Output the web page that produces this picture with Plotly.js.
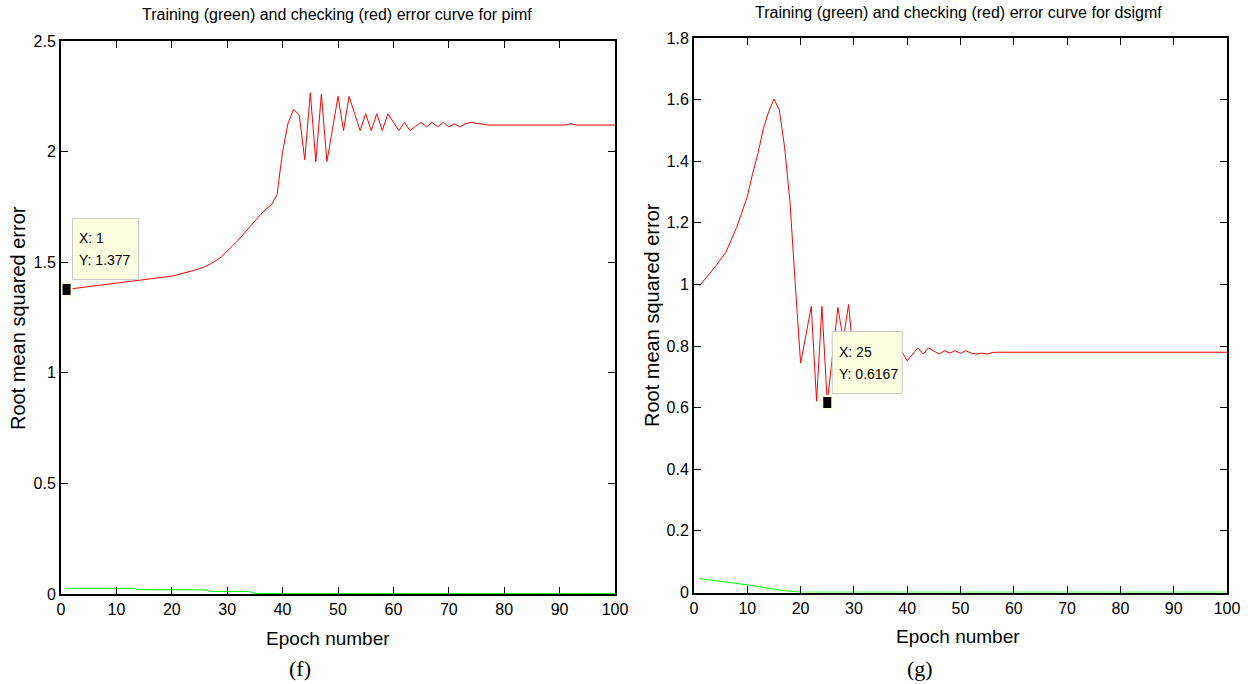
<!DOCTYPE html>
<html>
<head>
<meta charset="utf-8">
<script src="https://cdn.plot.ly/plotly-3.0.1.min.js"></script>
<style>
  html, body { margin: 0; padding: 0; background: #ffffff; }
  #chart { width: 1248px; height: 684px; }
</style>
</head>
<body>
<div id="chart"></div>
<script>
// ---------------- data ----------------
const epochs = [1,2,3,4,5,6,7,8,9,10,11,12,13,14,15,16,17,18,19,20,
  21,22,23,24,25,26,27,28,29,30,31,32,33,34,35,36,37,38,39,40,
  41,42,43,44,45,46,47,48,49,50,51,52,53,54,55,56,57,58,59,60,
  61,62,63,64,65,66,67,68,69,70,71,72,73,74,75,76,77,78,79,80,
  81,82,83,84,85,86,87,88,89,90,91,92,93,94,95,96,97,98,99,100];

// (f) pimf
const pimfChecking = [1.377,1.380,1.383,1.387,1.391,1.394,1.397,1.400,1.403,1.406,
  1.409,1.411,1.414,1.417,1.419,1.422,1.425,1.428,1.432,1.437,
  1.443,1.449,1.456,1.463,1.471,1.480,1.493,1.507,1.525,1.548,
  1.575,1.600,1.630,1.660,1.690,1.715,1.740,1.760,1.806,2.000,
  2.130,2.191,2.165,1.963,2.266,1.955,2.260,1.955,2.100,2.250,
  2.095,2.250,2.171,2.095,2.171,2.095,2.171,2.095,2.171,2.135,
  2.095,2.132,2.095,2.115,2.132,2.112,2.132,2.112,2.132,2.112,
  2.125,2.112,2.125,2.133,2.127,2.125,2.120,2.120,2.120,2.120,
  2.120,2.120,2.120,2.120,2.120,2.120,2.120,2.120,2.120,2.120,
  2.120,2.126,2.120,2.120,2.120,2.120,2.120,2.120,2.120,2.120];
const pimfTraining = [0.026,0.026,0.026,0.026,0.026,0.026,0.026,0.026,0.026,0.026,
  0.026,0.026,0.026,0.020,0.019,0.019,0.019,0.019,0.019,0.019,
  0.019,0.019,0.019,0.019,0.019,0.019,0.012,0.011,0.011,0.011,
  0.011,0.011,0.011,0.011,0.003,0.002,0.002,0.002,0.002,0.002,
  0.002,0.002,0.002,0.002,0.002,0.002,0.002,0.002,0.002,0.002,
  0.002,0.002,0.002,0.002,0.002,0.002,0.002,0.002,0.002,0.002,
  0.002,0.002,0.002,0.002,0.002,0.002,0.002,0.002,0.002,0.002,
  0.002,0.002,0.002,0.002,0.002,0.002,0.002,0.002,0.002,0.002,
  0.002,0.002,0.002,0.002,0.002,0.002,0.002,0.002,0.002,0.002,
  0.002,0.002,0.002,0.002,0.002,0.002,0.002,0.002,0.002,0.002];

// (g) dsigmf
const dsigChecking = [0.995,1.015,1.035,1.058,1.082,1.105,1.145,1.185,1.235,1.285,
  1.360,1.425,1.505,1.560,1.602,1.567,1.445,1.270,1.000,0.745,
  0.835,0.929,0.621,0.929,0.6167,0.770,0.925,0.820,0.935,0.750,
  0.830,0.760,0.820,0.765,0.810,0.770,0.800,0.770,0.783,0.752,
  0.773,0.794,0.774,0.794,0.784,0.774,0.785,0.777,0.785,0.776,
  0.785,0.777,0.774,0.777,0.774,0.779,0.780,0.780,0.780,0.780,
  0.780,0.780,0.780,0.780,0.780,0.780,0.780,0.780,0.780,0.780,
  0.780,0.780,0.780,0.780,0.780,0.780,0.780,0.780,0.780,0.780,
  0.780,0.780,0.780,0.780,0.780,0.780,0.780,0.780,0.780,0.780,
  0.780,0.780,0.780,0.780,0.780,0.780,0.780,0.780,0.780,0.780];
const dsigTraining = [0.045,0.043,0.041,0.039,0.036,0.033,0.031,0.029,0.027,0.025,
  0.022,0.019,0.016,0.013,0.010,0.008,0.006,0.004,0.002,0.001,
  0.001,0.001,0.001,0.001,0.001,0.001,0.001,0.001,0.001,0.001,
  0.001,0.001,0.001,0.001,0.001,0.001,0.001,0.001,0.001,0.001,
  0.001,0.001,0.001,0.001,0.001,0.001,0.001,0.001,0.001,0.001,
  0.001,0.001,0.001,0.001,0.001,0.001,0.001,0.001,0.001,0.001,
  0.001,0.001,0.001,0.001,0.001,0.001,0.001,0.001,0.001,0.001,
  0.001,0.001,0.001,0.001,0.001,0.001,0.001,0.001,0.001,0.001,
  0.001,0.001,0.001,0.001,0.001,0.001,0.001,0.001,0.001,0.001,
  0.001,0.001,0.001,0.001,0.001,0.001,0.001,0.001,0.001,0.001];

const titles = ["Training (green) and checking (red) error curve for pimf",
                "Training (green) and checking (red) error curve for dsigmf"];
const xTitle = "Epoch number";
const yTitle = "Root mean squared error";
const captions = ["(f)", "(g)"];
const xTickVals = [0,10,20,30,40,50,60,70,80,90,100];
const yTickValsF = [0,0.5,1,1.5,2,2.5];
const yTickValsG = [0,0.2,0.4,0.6,0.8,1,1.2,1.4,1.6,1.8];
// data tips: index into epochs (epoch 1 for pimf, epoch 25 for dsigmf)
const tipIndexF = 0;
const tipIndexG = 24;

// ---------------- layout ----------------
const W = 1248, H = 684;
const px = v => v / W;
const py = v => 1 - v / H;
const sansFamily = "'Liberation Sans', Arial, Helvetica, sans-serif";
const axFont = { family: sansFamily, size: 16, color: "#000" };
const tipFont = { family: sansFamily, size: 14, color: "#000" };

function axisBase(extra) {
  return Object.assign({
    showline: true, linecolor: "#000", linewidth: 2, mirror: "ticks",
    ticks: "inside", ticklen: 7, tickwidth: 1, tickcolor: "#000",
    showgrid: false, zeroline: false, tickfont: axFont, fixedrange: true,
    automargin: false
  }, extra);
}

const traces = [
  { x: epochs, y: pimfChecking, xaxis: "x", yaxis: "y", mode: "lines",
    line: { color: "#ff0000", width: 1 }, hoverinfo: "skip", name: "checking" },
  { x: epochs, y: pimfTraining, xaxis: "x", yaxis: "y", mode: "lines",
    line: { color: "#00ff00", width: 1 }, hoverinfo: "skip", name: "training" },
  { x: epochs, y: dsigChecking, xaxis: "x2", yaxis: "y2", mode: "lines",
    line: { color: "#ff0000", width: 1 }, hoverinfo: "skip", name: "checking" },
  { x: epochs, y: dsigTraining, xaxis: "x2", yaxis: "y2", mode: "lines",
    line: { color: "#00ff00", width: 1 }, hoverinfo: "skip", name: "training" }
];

function tipShapes(xref, yref, xv, yv, box) {
  return [
    { type: "rect", xref: xref, yref: yref, xsizemode: "pixel", ysizemode: "pixel",
      xanchor: xv, yanchor: yv, x0: box[0], x1: box[1], y0: box[2], y1: box[3],
      fillcolor: "#ffffe1", line: { color: "#c8c8c8", width: 1 }, layer: "above" },
    { type: "rect", xref: xref, yref: yref, xsizemode: "pixel", ysizemode: "pixel",
      xanchor: xv, yanchor: yv, x0: -5, x1: 5, y0: -6.5, y1: 6.5,
      fillcolor: "#000000", line: { color: "#ffffe1", width: 2 }, layer: "above" }
  ];
}
function tipTexts(xref, yref, xv, yv) {
  return [
    { xref: xref, yref: yref, x: xv, y: yv, text: "X: " + xv, showarrow: false,
      xanchor: "left", yanchor: "middle", xshift: 10, yshift: 51, font: tipFont },
    { xref: xref, yref: yref, x: xv, y: yv, text: "Y: " + yv, showarrow: false,
      xanchor: "left", yanchor: "middle", xshift: 10, yshift: 29, font: tipFont }
  ];
}

const fx = epochs[tipIndexF], fy = pimfChecking[tipIndexF];
const gx = epochs[tipIndexG], gy = dsigChecking[tipIndexG];

const textAnn = (x, y, text, size, extra) => Object.assign({
  xref: "paper", yref: "paper", x: px(x), y: py(y), text: text, showarrow: false,
  xanchor: "center", yanchor: "middle",
  font: { family: sansFamily, size: size, color: "#000" }
}, extra || {});
const serif = { family: "'Liberation Serif', 'Times New Roman', serif", size: 22, color: "#000" };

const layout = {
  width: W, height: H,
  margin: { l: 0, r: 0, t: 0, b: 0 },
  paper_bgcolor: "#ffffff", plot_bgcolor: "#ffffff",
  showlegend: false,
  xaxis: axisBase({ domain: [px(61), px(615)], range: [0, 100], tickvals: xTickVals, anchor: "y" }),
  yaxis: axisBase({ domain: [py(594), py(41)], range: [0, 2.5], tickvals: yTickValsF, anchor: "x" }),
  xaxis2: axisBase({ domain: [px(694), px(1227)], range: [0, 100], tickvals: xTickVals, anchor: "y2" }),
  yaxis2: axisBase({ domain: [py(592.5), py(38)], range: [0, 1.8], tickvals: yTickValsG, anchor: "x2" }),
  shapes: [].concat(tipShapes("x", "y", fx, fy, [6, 72, 10, 71]),
                    tipShapes("x2", "y2", gx, gy, [5, 75, 9, 71])),
  annotations: [].concat(
    tipTexts("x", "y", fx, fy),
    tipTexts("x2", "y2", gx, gy),
    [
      textAnn(337, 14, titles[0], 16),
      textAnn(958, 13, titles[1], 16),
      textAnn(328, 638, xTitle, 19),
      textAnn(958, 636, xTitle, 19),
      textAnn(18, 318, yTitle, 20, { textangle: -90 }),
      textAnn(652, 315, yTitle, 20, { textangle: -90 }),
      textAnn(300, 668, captions[0], 22, { font: serif }),
      textAnn(920, 668, captions[1], 22, { font: serif })
    ])
};

Plotly.newPlot("chart", traces, layout, { staticPlot: true, displayModeBar: false });
</script>
</body>
</html>
